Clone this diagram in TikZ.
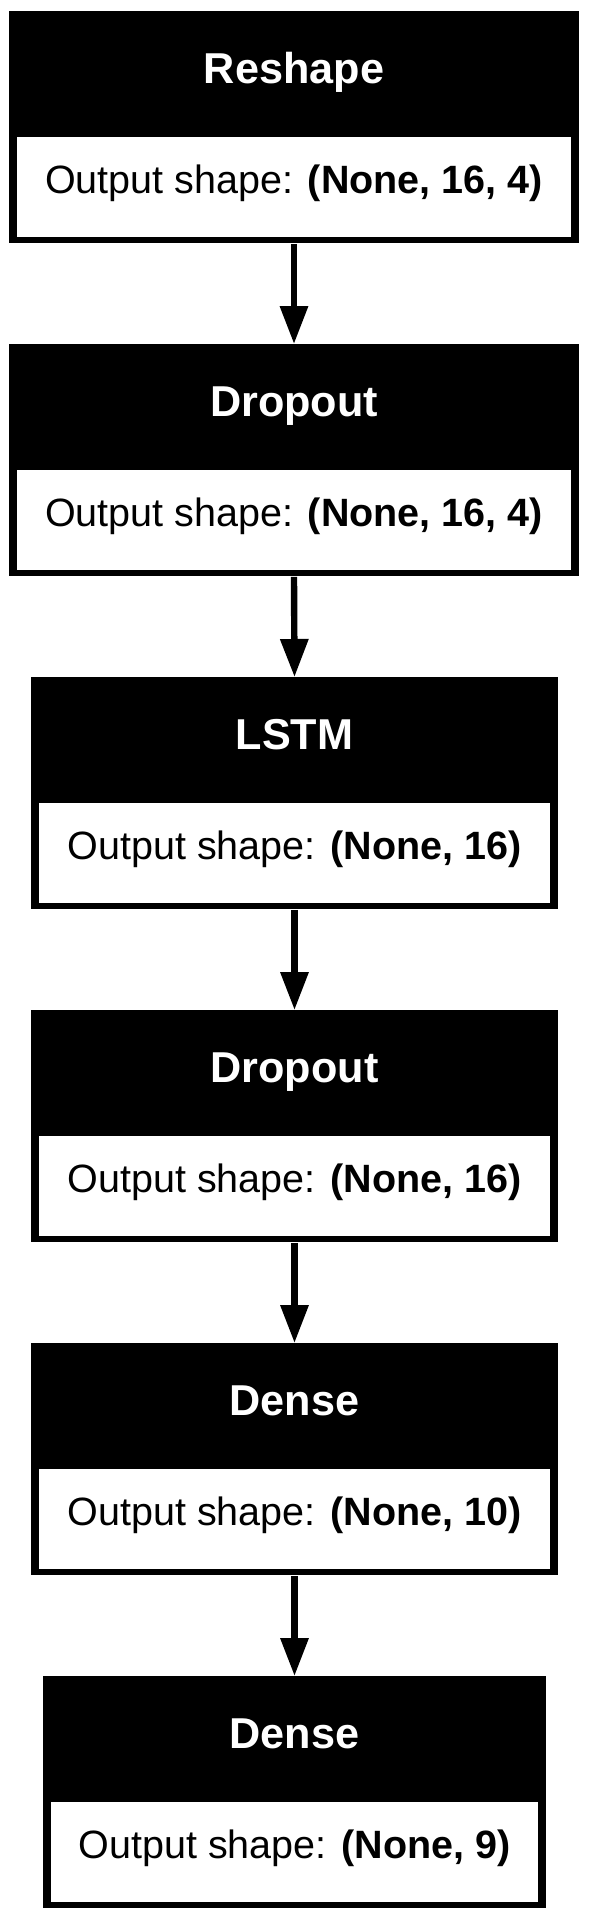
\documentclass[tikz,border=0pt]{standalone}
\usepackage{fontspec}
\setmainfont{Liberation Sans}
\usetikzlibrary{arrows.meta}
\newcommand\mylayer[6]{%
  % #1 name, #2 top, #3 left, #4 right, #5 title, #6 shape
  \node[layerbox, minimum width={(#4-#3)*0.5pt}, anchor=north] (#1) at ({(#3+#4)/2},#2) {};
  \fill[white] ({#3+8},{#2+126}) rectangle ({#4-8},{#2+226});
  \node[headtext] (#1t) at ({(#3+#4)/2},{#2+72}) {#5};
  \node[bodytext] (#1s) at ({(#3+#4)/2},{#2+182}) {Output shape: \textbf{#6}};
}
\begin{document}
\begin{tikzpicture}[x=0.5pt,y=-0.5pt,
  layerbox/.style={rectangle, fill=black, draw=none, inner sep=0pt, minimum height=116pt},
  headtext/.style={anchor=base, text=white, font=\fontsize{21.6}{24}\selectfont\bfseries, inner sep=0pt},
  bodytext/.style={anchor=base, text=black, font=\fontsize{19.75}{22}\selectfont, inner sep=0pt},
  flow/.style={line width=3.2pt, -{Triangle[length=19pt, width=13.5pt]}, shorten >=0pt}]
\useasboundingbox[fill=white] (0,0) rectangle (589,1922);
\mylayer{l1}{11}{9}{579}{Reshape}{(None, 16, 4)}
\mylayer{l2}{344}{9}{579}{Dropout}{(None, 16, 4)}
\mylayer{l3}{677}{31}{558}{LSTM}{(None, 16)}
\mylayer{l4}{1010}{31}{558}{Dropout}{(None, 16)}
\mylayer{l5}{1343}{31}{558}{Dense}{(None, 10)}
\mylayer{l6}{1676}{43}{546}{Dense}{(None, 9)}
\draw[flow] (l1.south) -- (l2.north);
\draw[flow] (l2.south) -- (l3.north);
\draw[flow] (l3.south) -- (l4.north);
\draw[flow] (l4.south) -- (l5.north);
\draw[flow] (l5.south) -- (l6.north);
\end{tikzpicture}
\end{document}
